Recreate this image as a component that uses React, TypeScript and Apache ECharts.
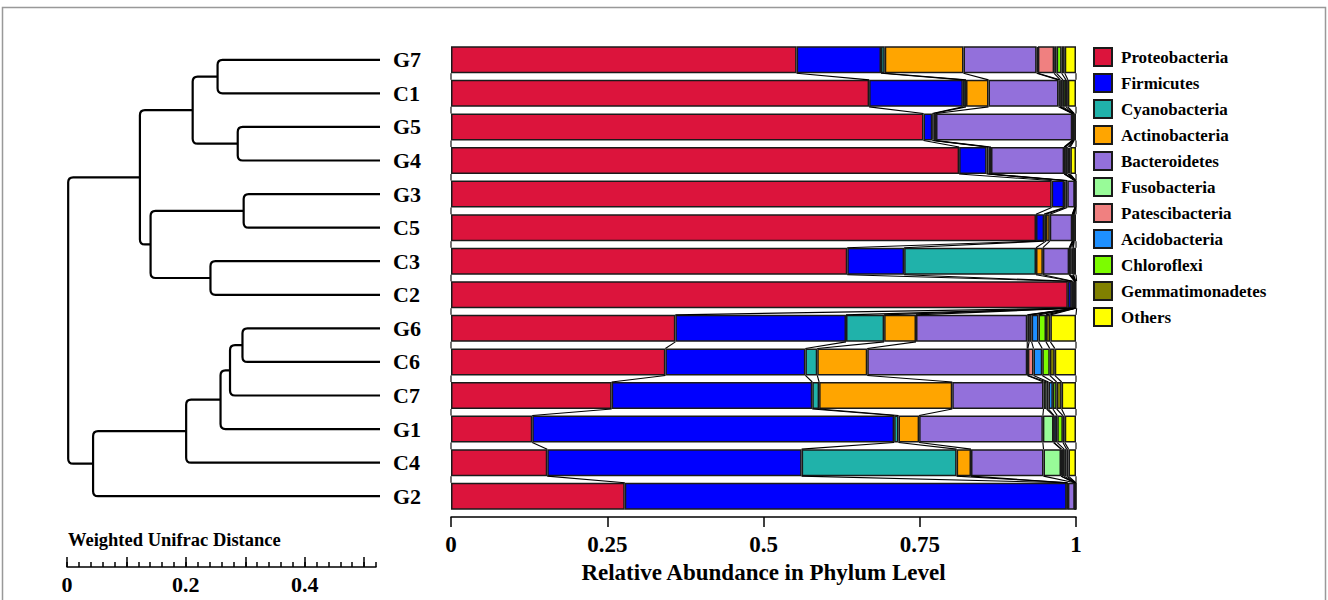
import React, { useEffect, useRef } from "react";
import * as echarts from "echarts";

const categories = ["G7", "C1", "G5", "G4", "G3", "C5", "C3", "C2", "G6", "C6", "C7", "G1", "C4", "G2"];
const phyla = [
  "Proteobacteria", "Firmicutes", "Cyanobacteria", "Actinobacteria", "Bacteroidetes",
  "Fusobacteria", "Patescibacteria", "Acidobacteria", "Chloroflexi", "Gemmatimonadetes", "Others",
];
const colors = ["#DC143C", "#0000FF", "#20B2AA", "#FFA500", "#9370DB", "#98FB98", "#F08080", "#1E90FF", "#7CFC00", "#808000", "#FFFF00"];

const proteobacteria = [0.553, 0.669, 0.756, 0.813, 0.961, 0.936, 0.634, 0.987, 0.359, 0.343, 0.257, 0.130, 0.154, 0.278];
const firmicutes = [0.135, 0.150, 0.014, 0.044, 0.020, 0.013, 0.091, 0.006, 0.273, 0.224, 0.321, 0.579, 0.407, 0.707];
const cyanobacteria = [0.006, 0.005, 0.002, 0.003, 0.002, 0.003, 0.211, 0.001, 0.061, 0.019, 0.011, 0.007, 0.248, 0.001];
const actinobacteria = [0.126, 0.036, 0.004, 0.004, 0.003, 0.006, 0.011, 0.001, 0.051, 0.080, 0.213, 0.033, 0.023, 0.001];
const bacteroidetes = [0.117, 0.112, 0.218, 0.117, 0.012, 0.036, 0.042, 0.003, 0.178, 0.256, 0.146, 0.198, 0.116, 0.011];
const fusobacteria = [0.002, 0.002, 0.0005, 0.001, 0.0003, 0.0005, 0.001, 0.0003, 0.003, 0.001, 0.005, 0.017, 0.028, 0.0003];
const patescibacteria = [0.026, 0.001, 0.0005, 0.001, 0.0003, 0.0005, 0.001, 0.0003, 0.004, 0.009, 0.003, 0.001, 0.001, 0.0003];
const acidobacteria = [0.004, 0.004, 0.001, 0.004, 0.0004, 0.001, 0.002, 0.0004, 0.011, 0.014, 0.007, 0.005, 0.004, 0.0004];
const chloroflexi = [0.008, 0.005, 0.0005, 0.002, 0.0003, 0.0005, 0.002, 0.0003, 0.012, 0.012, 0.006, 0.009, 0.004, 0.0003];
const gemmatimonadetes = [0.005, 0.003, 0.0005, 0.002, 0.0003, 0.0005, 0.001, 0.0003, 0.007, 0.008, 0.008, 0.003, 0.003, 0.0003];
const others = [0.018, 0.013, 0.003, 0.009, 0.0004, 0.003, 0.004, 0.0014, 0.041, 0.034, 0.023, 0.018, 0.012, 0.0004];

const abundance = [
  proteobacteria, firmicutes, cyanobacteria, actinobacteria, bacteroidetes,
  fusobacteria, patescibacteria, acidobacteria, chloroflexi, gemmatimonadetes, others,
];

const xTicks = [0, 0.25, 0.5, 0.75, 1];

// dendrogram (leaves are indices into categories; merge k creates node 14 + k)
const mergeLeft = [0, 2, 14, 4, 6, 17, 16, 8, 21, 22, 23, 24, 20];
const mergeRight = [1, 3, 15, 5, 7, 18, 19, 9, 10, 11, 12, 13, 25];
const mergeHeight = [0.274, 0.24, 0.316, 0.23, 0.286, 0.387, 0.405, 0.232, 0.253, 0.269, 0.327, 0.484, 0.526];

const scaleMajorTicks = [0, 0.1, 0.2, 0.3, 0.4, 0.5];
const scaleLabels = [0, 0.2, 0.4];

const nodeY: number[] = categories.map((_, i) => i);
const nodeH: number[] = categories.map(() => 0);
mergeHeight.forEach((h, k) => {
  nodeY.push((nodeY[mergeLeft[k]] + nodeY[mergeRight[k]]) / 2);
  nodeH.push(h);
});

const FONT = "'Liberation Serif', 'Times New Roman', serif";
const BAR_W = 27;

export default function App() {
  const ref = useRef<HTMLDivElement>(null);
  useEffect(() => {
    document.body.style.margin = "0";
    if (!ref.current) return;
    const chart = echarts.init(ref.current, null, { renderer: "svg" });

    const barSeries = phyla.map((name, k) => ({
      name,
      type: "bar",
      stack: "total",
      xAxisIndex: 0,
      yAxisIndex: 0,
      barWidth: BAR_W,
      data: abundance[k],
      itemStyle: { color: colors[k], borderColor: "#1a1a1a", borderWidth: 1.5 },
      z: 2,
    }));

    const connector = {
      type: "custom",
      xAxisIndex: 0,
      yAxisIndex: 0,
      silent: true,
      z: 3,
      data: categories.slice(0, -1).map((_, i) => [0, i]),
      renderItem: (params: any, api: any) => {
        const i = params.dataIndex;
        const children: any[] = [];
        let cA = 0;
        let cB = 0;
        for (let k = 0; k <= phyla.length; k++) {
          const pA = api.coord([cA, i]);
          const pB = api.coord([cB, i + 1]);
          children.push({
            type: "line",
            shape: { x1: pA[0], y1: pA[1] + BAR_W / 2, x2: pB[0], y2: pB[1] - BAR_W / 2 },
            style: { stroke: "#000", lineWidth: 1.1 },
          });
          if (k < phyla.length) {
            cA += abundance[k][i];
            cB += abundance[k][i + 1];
          }
        }
        return { type: "group", children };
      },
    };

    const tree = {
      type: "custom",
      xAxisIndex: 1,
      yAxisIndex: 1,
      silent: true,
      data: mergeHeight.map((h, k) => [h, nodeY[14 + k]]),
      renderItem: (params: any, api: any) => {
        const k = params.dataIndex;
        const a = mergeLeft[k];
        const b = mergeRight[k];
        const h = mergeHeight[k];
        const pa = api.coord([nodeH[a], nodeY[a]]);
        const pb = api.coord([nodeH[b], nodeY[b]]);
        const na = api.coord([h, nodeY[a]]);
        const nb = api.coord([h, nodeY[b]]);
        const r = 5;
        const x = na[0];
        const d =
          `M${pa[0]} ${pa[1]} L${x + r} ${na[1]} Q${x} ${na[1]} ${x} ${na[1] + r} ` +
          `L${x} ${nb[1] - r} Q${x} ${nb[1]} ${x + r} ${nb[1]} L${pb[0]} ${pb[1]}`;
        return {
          type: "path",
          shape: { pathData: d },
          style: { fill: "none", stroke: "#000", lineWidth: 2.2 },
        };
      },
    };

    const labelStyle = { fontFamily: FONT, fontWeight: "bold", color: "#000" };

    chart.setOption({
      animation: false,
      backgroundColor: "#fff",
      title: {
        text: "Weighted Unifrac Distance",
        left: 68,
        top: 530,
        padding: 0,
        textStyle: { ...labelStyle, fontSize: 18.5 },
      },
      legend: {
        data: phyla,
        orient: "vertical",
        left: 1093,
        top: 47,
        padding: 0,
        itemWidth: 18,
        itemHeight: 18,
        itemGap: 6,
        icon: "rect",
        textStyle: { ...labelStyle, fontSize: 17, padding: [0, 0, 0, 4] },
      },
      graphic: [
        {
          type: "rect",
          shape: { x: 2.5, y: 7.5, width: 1323, height: 640 },
          style: { fill: "none", stroke: "#999", lineWidth: 1.5 },
          silent: true,
        },
      ],
      grid: [
        { left: 451, width: 625, top: 43, height: 470 },
        { left: 67, width: 313, top: 43, height: 470 },
        { left: 67, width: 309, top: 530, height: 37 },
      ],
      xAxis: [
        {
          type: "value",
          gridIndex: 0,
          min: 0,
          max: 1,
          interval: 0.25,
          offset: 4,
          splitLine: { show: false },
          axisLine: { show: true, lineStyle: { color: "#000", width: 1.5 } },
          axisTick: { show: true, length: 10, lineStyle: { color: "#000", width: 1.5 } },
          axisLabel: {
            ...labelStyle,
            fontSize: 23,
            margin: 16,
            customValues: xTicks,
            formatter: (v: number) => String(v),
          },
          name: "Relative Abundance in Phylum Level",
          nameLocation: "middle",
          nameGap: 39,
          nameTextStyle: { ...labelStyle, fontSize: 23 },
        },
        {
          type: "value",
          gridIndex: 1,
          min: 0,
          max: 0.528,
          inverse: true,
          show: false,
        },
        {
          type: "value",
          gridIndex: 2,
          position: "bottom",
          min: 0,
          max: 0.52,
          interval: 0.02,
          splitLine: { show: false },
          axisLine: { show: true, lineStyle: { color: "#000", width: 1.5 } },
          axisTick: { show: true, inside: true, length: 5, lineStyle: { color: "#000", width: 1.5 } },
          axisLabel: { show: false },
        },
        {
          type: "value",
          gridIndex: 2,
          position: "bottom",
          offset: 0,
          min: 0,
          max: 0.52,
          splitLine: { show: false },
          axisLine: { show: false },
          axisTick: {
            show: true,
            inside: true,
            length: 10,
            customValues: scaleMajorTicks,
            lineStyle: { color: "#000", width: 1.5 },
          },
          axisLabel: {
            ...labelStyle,
            fontSize: 22,
            margin: 6,
            customValues: scaleLabels,
            formatter: (v: number) => String(v),
          },
        },
      ],
      yAxis: [
        {
          type: "category",
          gridIndex: 0,
          data: categories,
          inverse: true,
          axisLine: { show: false },
          axisTick: { show: false },
          splitLine: { show: false },
          axisLabel: { ...labelStyle, fontSize: 22, align: "left", margin: 58 },
        },
        {
          type: "value",
          gridIndex: 1,
          min: -0.5,
          max: 13.5,
          inverse: true,
          show: false,
        },
        {
          type: "value",
          gridIndex: 2,
          min: 0,
          max: 1,
          show: false,
        },
      ],
      series: [...barSeries, connector, tree],
    });
    return () => chart.dispose();
  }, []);
  return <div ref={ref} style={{ width: 1328, height: 600 }} />;
}
